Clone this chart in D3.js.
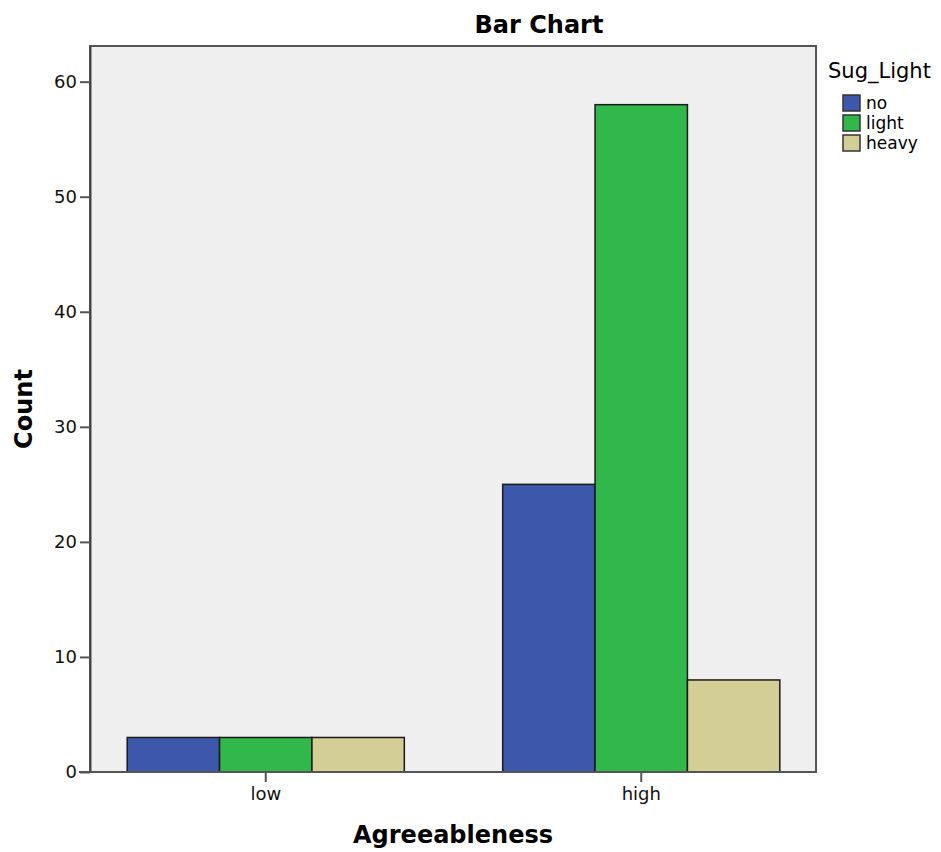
<!DOCTYPE html>
<html>
<head>
<meta charset="utf-8">
<script src="https://cdn.jsdelivr.net/npm/d3@7"></script>
<style>
  body { margin: 0; background: #fff; }
  text { font-family: 'DejaVu Sans', sans-serif; }
</style>
</head>
<body>
<div id="chart"></div>
<script>
// data
const categories = ['low', 'high']
const series = ['no', 'light', 'heavy']
const noCounts = [3, 25]
const lightCounts = [3, 58]
const heavyCounts = [3, 8]
const yTicks = [0, 10, 20, 30, 40, 50, 60]
const colors = ['#3d58ab', '#30b84a', '#d3cd96']

const values = [noCounts, lightCounts, heavyCounts]
const rows = categories.map((c, i) => ({
  cat: c,
  vals: series.map((s, j) => ({ key: s, value: values[j][i], idx: j }))
}))

const width = 941
const height = 852
const plot = { left: 90, right: 816, top: 46, bottom: 772 }

const svg = d3.select('#chart').append('svg')
  .attr('width', width)
  .attr('height', height)

const y = d3.scaleLinear()
  .domain([0, 63.1])
  .range([plot.bottom, plot.top])

const x0 = d3.scaleBand()
  .domain(categories)
  .range([78, 829])
  .paddingInner(0.262)
  .paddingOuter(0.131)

const x1 = d3.scaleBand()
  .domain(series)
  .range([0, x0.bandwidth()])

// plot background and frame
svg.append('rect')
  .attr('x', plot.left)
  .attr('y', plot.top)
  .attr('width', plot.right - plot.left)
  .attr('height', plot.bottom - plot.top)
  .attr('fill', '#efefef')
  .attr('stroke', '#555')
  .attr('stroke-width', 2)

// bars
const groups = svg.append('g').selectAll('g')
  .data(rows)
  .enter()
  .append('g')
  .attr('transform', (d) => 'translate(' + x0(d.cat) + ',0)')

groups.selectAll('rect')
  .data((d) => d.vals)
  .enter()
  .append('rect')
  .attr('x', (d) => x1(d.key))
  .attr('y', (d) => y(d.value))
  .attr('width', x1.bandwidth())
  .attr('height', (d) => y(0) - y(d.value))
  .attr('fill', (d) => colors[d.idx])
  .attr('stroke', '#1a1a1a')
  .attr('stroke-width', 1.5)

// y axis
const yAxis = svg.append('g')
  .attr('transform', 'translate(' + plot.left + ',0)')
  .call(d3.axisLeft(y).tickValues(yTicks).tickSize(10).tickSizeOuter(0).tickPadding(3))
yAxis.select('.domain').attr('stroke', '#444').attr('stroke-width', 2)
yAxis.selectAll('.tick line').attr('stroke', '#555').attr('stroke-width', 2)
yAxis.selectAll('.tick text')
  .attr('font-size', 18)
  .attr('fill', '#111')
  .style('font-family', "'DejaVu Sans', sans-serif")

// x axis
const xAxis = svg.append('g')
  .attr('transform', 'translate(0,' + plot.bottom + ')')
  .call(d3.axisBottom(x0).tickSize(10).tickSizeOuter(0).tickPadding(5))
xAxis.select('.domain').remove()
xAxis.append('line')
  .attr('x1', 79)
  .attr('x2', plot.right)
  .attr('stroke', '#555')
  .attr('stroke-width', 2)
xAxis.selectAll('.tick line').attr('stroke', '#555').attr('stroke-width', 2)
xAxis.selectAll('.tick text')
  .attr('font-size', 18)
  .attr('fill', '#111')
  .style('font-family', "'DejaVu Sans', sans-serif")

// titles
svg.append('text')
  .attr('x', 539)
  .attr('y', 33)
  .attr('text-anchor', 'middle')
  .attr('font-size', 24)
  .attr('font-weight', 'bold')
  .text('Bar Chart')

svg.append('text')
  .attr('x', (plot.left + plot.right) / 2)
  .attr('y', 843)
  .attr('text-anchor', 'middle')
  .attr('font-size', 24)
  .attr('font-weight', 'bold')
  .text('Agreeableness')

svg.append('text')
  .attr('transform', 'translate(32,' + ((plot.top + plot.bottom) / 2) + ') rotate(-90)')
  .attr('text-anchor', 'middle')
  .attr('font-size', 24)
  .attr('font-weight', 'bold')
  .text('Count')

// legend
const legend = svg.append('g')
  .attr('transform', 'translate(828,0)')

legend.append('text')
  .attr('x', 0)
  .attr('y', 78)
  .attr('font-size', 21)
  .text('Sug_Light')

const items = legend.selectAll('g.item')
  .data(series)
  .enter()
  .append('g')
  .attr('class', 'item')
  .attr('transform', (d, i) => 'translate(0,' + (95 + i * 20) + ')')

items.append('rect')
  .attr('x', 15)
  .attr('y', 0)
  .attr('width', 17)
  .attr('height', 16)
  .attr('fill', (d, i) => colors[i])
  .attr('stroke', '#333')
  .attr('stroke-width', 1.5)

items.append('text')
  .attr('x', 38)
  .attr('y', 14)
  .attr('font-size', 17)
  .text((d) => d)
</script>
</body>
</html>
